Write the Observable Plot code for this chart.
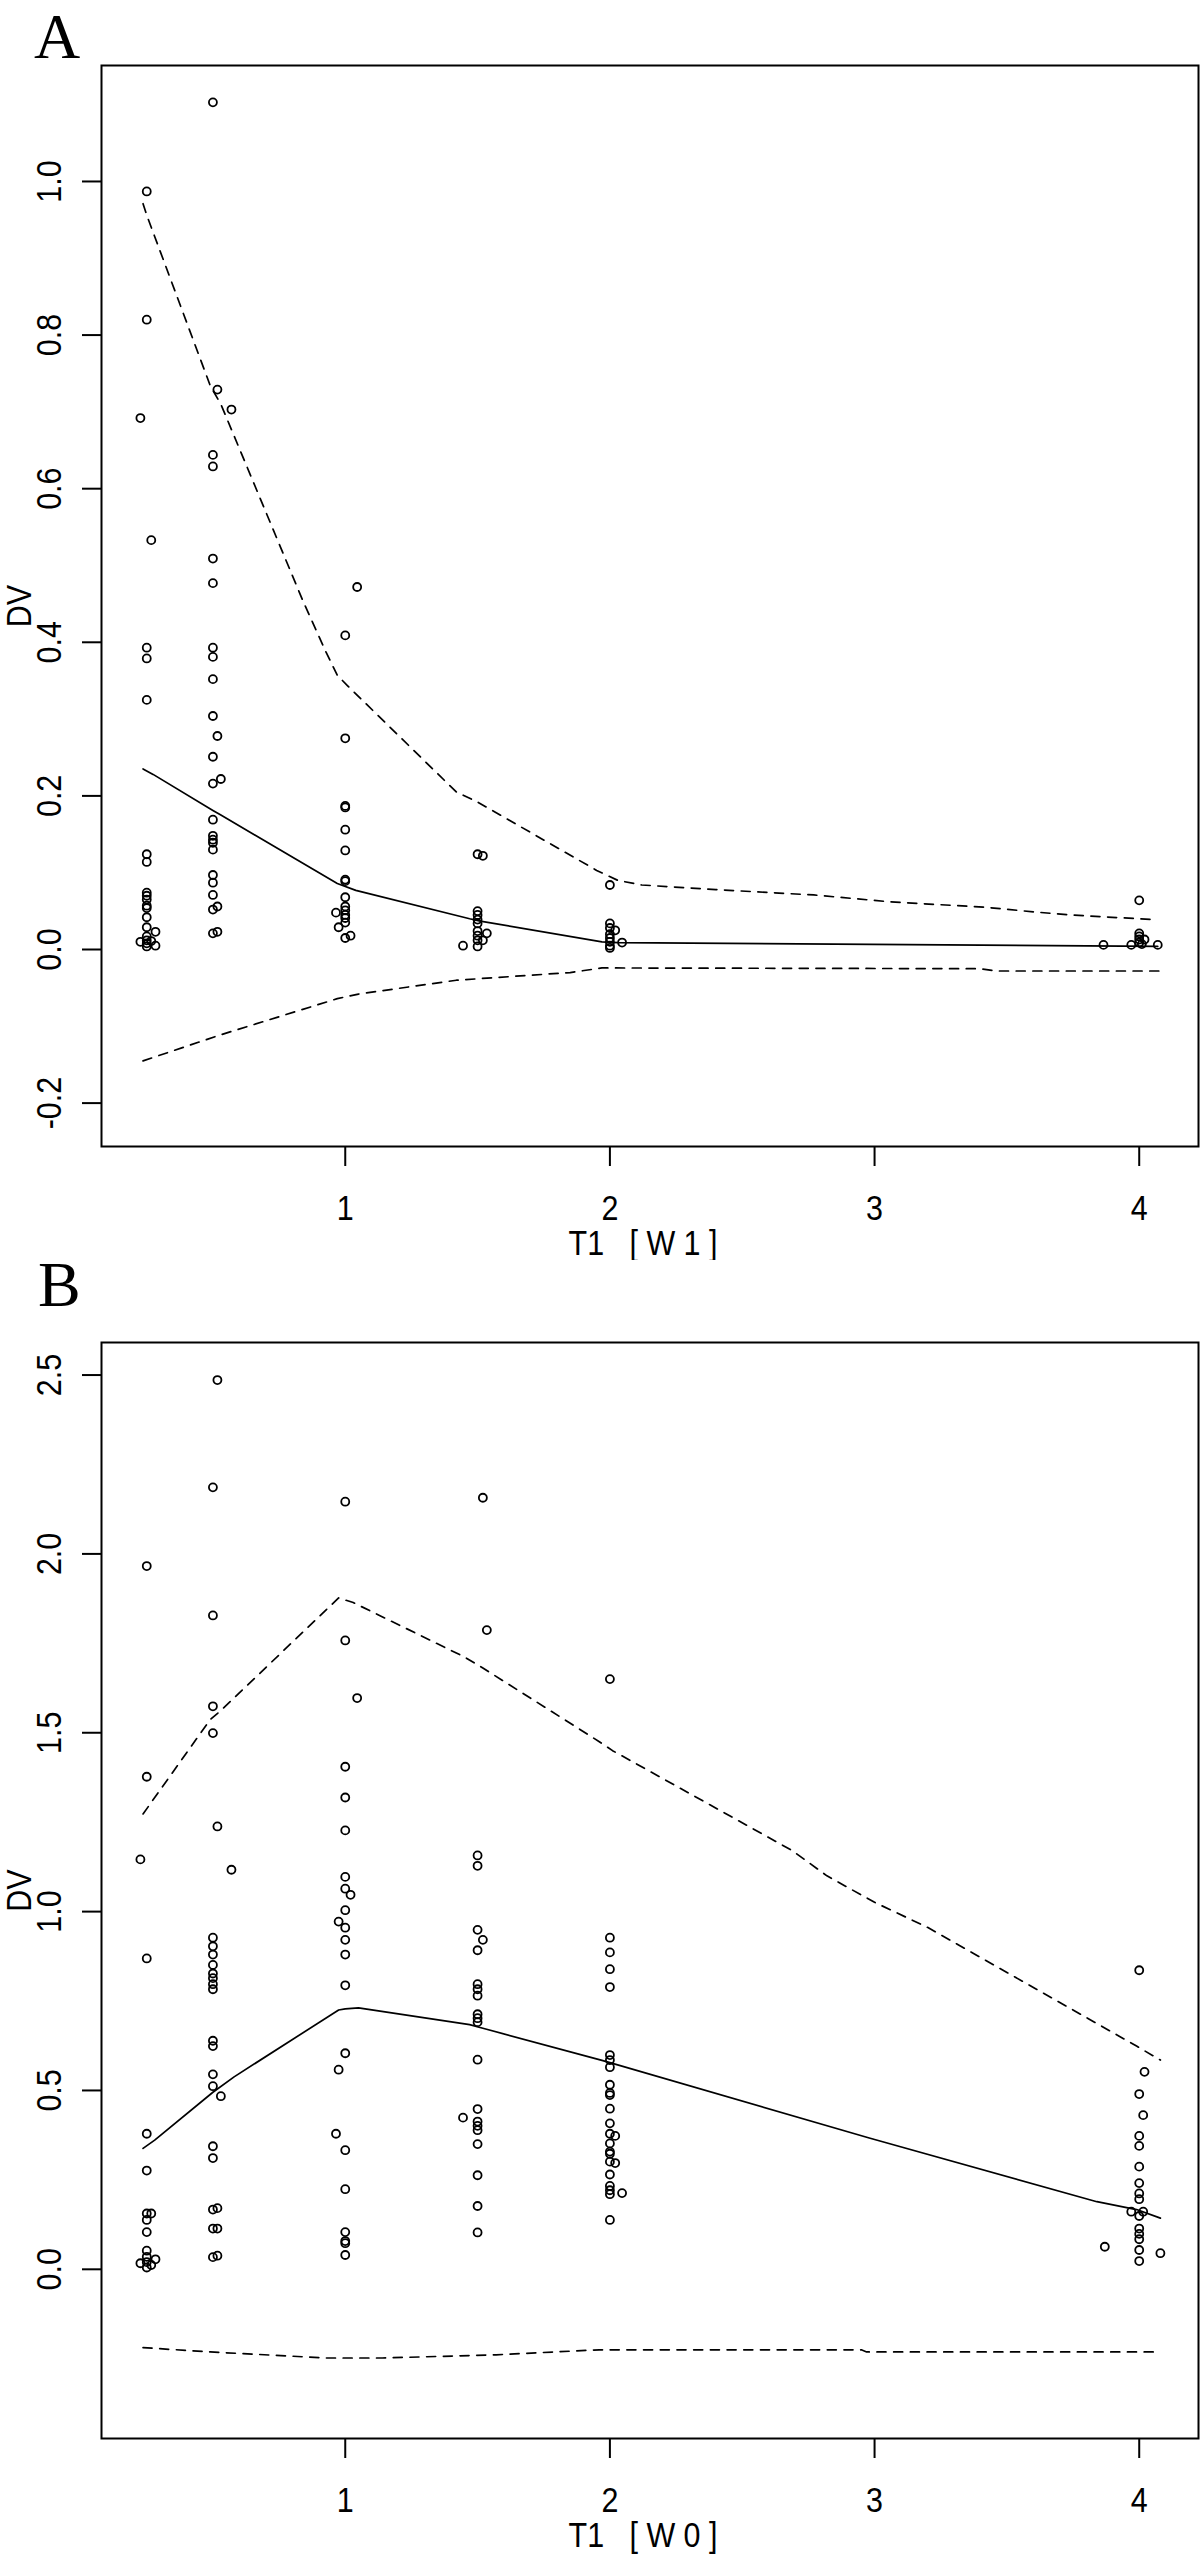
<!DOCTYPE html>
<html><head><meta charset="utf-8">
<script src="https://cdn.jsdelivr.net/npm/d3@7"></script>
<script src="https://cdn.jsdelivr.net/npm/@observablehq/plot@0.6"></script>
<style>
body{margin:0;background:#fff;}
#wrap{position:relative;width:1200px;height:2557px;overflow:hidden;background:#fff;}
.plabel{position:absolute;font-family:"Liberation Serif","Times New Roman",serif;font-size:64px;line-height:normal;color:#000;}
svg text{white-space:pre;}
</style></head><body><div id="wrap"></div>
<script>
// ---------- shared axis ----------
const xTicks = [1, 2, 3, 4];
const xDomain = [0.079, 4.224];

// ---------- Panel A : T1 [W1] ----------
const aYTicks = [-0.2, 0, 0.2, 0.4, 0.6, 0.8, 1.0];
const aYDomain = [-0.2565, 1.151];
const aPoints = [
  [0.25,0.987],[0.25,0.82],[0.226,0.692],[0.267,0.533],[0.25,0.393],[0.25,0.379],[0.25,0.325],
  [0.25,0.124],[0.25,0.114],[0.25,0.074],[0.25,0.070],[0.25,0.065],[0.25,0.057],[0.25,0.054],
  [0.25,0.042],[0.25,0.029],[0.25,0.017],[0.25,0.012],[0.25,0.008],[0.25,0.004],[0.226,0.010],
  [0.283,0.023],[0.283,0.005],[0.267,0.011],
  [0.5,1.103],[0.517,0.729],[0.57,0.703],[0.5,0.644],[0.5,0.629],[0.5,0.509],[0.5,0.477],
  [0.5,0.393],[0.5,0.381],[0.5,0.352],[0.5,0.304],[0.517,0.278],[0.5,0.251],[0.5,0.216],
  [0.53,0.222],[0.5,0.169],[0.5,0.148],[0.5,0.143],[0.5,0.139],[0.5,0.13],[0.5,0.097],
  [0.5,0.087],[0.5,0.071],[0.5,0.052],[0.517,0.056],[0.5,0.021],[0.517,0.023],
  [1.045,0.472],[1,0.409],[1,0.275],[1,0.187],[1,0.185],[1,0.156],[1,0.129],[1,0.091],
  [1,0.089],[1,0.068],[1,0.056],[1,0.051],[1,0.045],[1,0.041],[1,0.035],[0.965,0.048],
  [0.975,0.029],[1.02,0.018],[1,0.015],
  [1.5,0.124],[1.52,0.122],[1.5,0.05],[1.5,0.045],[1.5,0.039],[1.5,0.034],[1.5,0.024],
  [1.5,0.018],[1.5,0.012],[1.5,0.004],[1.535,0.021],[1.52,0.012],[1.445,0.005],
  [2,0.084],[2,0.034],[2,0.028],[2.02,0.025],[2,0.02],[2,0.015],[2,0.01],[2,0.005],
  [2,0.002],[2.046,0.009],
  [3.865,0.006],[3.97,0.006],[4,0.021],[4,0.017],[4,0.013],[4,0.009],[4.02,0.013],
  [4.07,0.006],[4,0.064],[4.01,0.007]
];
const aMedian = [
  [0.236,0.235],[0.274,0.228],[0.5,0.181],[0.53,0.175],[0.97,0.086],[1.04,0.077],
  [1.47,0.040],[1.51,0.037],[1.97,0.010],[2.03,0.009],[4.07,0.004]
];
const aUpper = [
  [0.236,0.971],[0.25,0.956],[0.49,0.734],[0.53,0.71],[0.84,0.454],[0.925,0.389],
  [0.97,0.357],[1.01,0.343],[1.42,0.205],[1.5,0.192],[1.95,0.103],[2.03,0.09],
  [2.12,0.084],[2.4,0.078],[2.77,0.071],[3.06,0.062],[3.42,0.055],[3.6,0.049],
  [3.74,0.045],[4.05,0.039]
];
const aLower = [
  [0.236,-0.145],[0.53,-0.111],[0.97,-0.064],[1.05,-0.058],[1.42,-0.040],[1.85,-0.030],
  [1.97,-0.024],[3.4,-0.025],[3.46,-0.028],[4.08,-0.028]
];

// ---------- Panel B : T1 [W0] ----------
const bYTicks = [0, 0.5, 1.0, 1.5, 2.0, 2.5];
const bYDomain = [-0.473, 2.591];
const bPoints = [
  [0.25,1.966],[0.25,1.377],[0.226,1.146],[0.25,0.869],[0.25,0.379],[0.25,0.276],[0.25,0.156],
  [0.267,0.156],[0.25,0.138],[0.25,0.104],[0.25,0.052],[0.25,0.035],[0.226,0.017],[0.283,0.028],
  [0.267,0.012],[0.25,0.005],[0.25,0.02],
  [0.517,2.486],[0.5,2.186],[0.5,1.828],[0.5,1.574],[0.5,1.499],[0.517,1.238],[0.57,1.117],
  [0.5,0.927],[0.5,0.903],[0.5,0.88],[0.5,0.851],[0.5,0.827],[0.5,0.814],[0.5,0.797],
  [0.5,0.783],[0.5,0.639],[0.5,0.624],[0.5,0.545],[0.5,0.512],[0.53,0.484],[0.5,0.344],
  [0.5,0.311],[0.5,0.167],[0.517,0.171],[0.5,0.114],[0.517,0.114],[0.5,0.034],[0.517,0.038],
  [1,2.146],[1,1.758],[1.045,1.597],[1,1.405],[1,1.319],[1,1.227],[1,1.097],[1,1.064],
  [1.02,1.047],[1,1.004],[0.975,0.972],[1,0.955],[1,0.921],[1,0.88],[1,0.794],[1,0.604],
  [0.975,0.558],[0.965,0.379],[1,0.333],[1,0.224],[1,0.104],[1,0.079],[1,0.073],[1,0.04],
  [1.52,2.157],[1.535,1.787],[1.5,1.157],[1.5,1.128],[1.5,0.949],[1.52,0.921],[1.5,0.892],
  [1.5,0.797],[1.5,0.783],[1.5,0.765],[1.5,0.713],[1.5,0.702],[1.5,0.691],[1.5,0.586],
  [1.5,0.448],[1.445,0.424],[1.5,0.413],[1.5,0.401],[1.5,0.389],[1.5,0.35],[1.5,0.263],
  [1.5,0.177],[1.5,0.103],
  [2,1.65],[2,0.927],[2,0.886],[2,0.839],[2,0.789],[2,0.599],[2,0.585],[2,0.565],[2,0.516],
  [2,0.493],[2,0.487],[2,0.449],[2,0.408],[2,0.379],[2.02,0.373],[2,0.352],[2,0.329],
  [2,0.323],[2,0.301],[2.02,0.297],[2,0.265],[2,0.233],[2,0.221],[2,0.21],[2.046,0.213],
  [2,0.138],
  [4,0.836],[4.02,0.552],[4,0.49],[4.015,0.431],[4,0.373],[4,0.345],[4,0.287],[4,0.241],
  [4,0.212],[4,0.196],[3.97,0.161],[4.015,0.161],[4,0.149],[4,0.114],[4,0.099],[4,0.084],
  [4,0.054],[4,0.023],[3.87,0.063],[4.08,0.045]
];
const bMedian = [
  [0.236,0.338],[0.28,0.361],[0.5,0.495],[0.58,0.538],[0.975,0.725],[1.0,0.728],[1.05,0.731],
  [1.47,0.684],[1.52,0.674],[1.97,0.584],[2.0,0.578],[2.98,0.367],[3.84,0.189],[3.99,0.167],
  [4.08,0.143]
];
const bUpper = [
  [0.236,1.273],[0.49,1.537],[0.53,1.562],[0.975,1.877],[1.03,1.864],[1.45,1.712],[1.52,1.681],
  [1.96,1.475],[2.01,1.45],[2.69,1.17],[2.82,1.10],[3.0,1.026],[3.2,0.956],[3.99,0.624],
  [4.08,0.585]
];
const bLower = [
  [0.236,-0.219],[0.49,-0.231],[0.93,-0.248],[1.14,-0.248],[1.57,-0.239],[1.96,-0.225],
  [2.95,-0.225],[2.97,-0.231],[4.08,-0.231]
];

function panel(o) {
  const toObj = a => a.map(([t, dv]) => ({t, dv}));
  return Plot.plot({
    width: 1200, height: o.height,
    marginLeft: 101, marginRight: 2, marginTop: o.marginTop, marginBottom: o.marginBottom,
    x: {domain: xDomain},
    y: {domain: o.yDomain},
    style: {fontFamily: "'Liberation Sans', Arial, sans-serif", fontSize: "35px", background: "white", color: "black", overflow: "visible"},
    marks: [
      Plot.axisX({ticks: xTicks, tickSize: 20, tickPadding: 29, tickFormat: d => String(d), label: null, strokeWidth: 2}),
      Plot.axisY({ticks: o.yTicks, tickSize: 19, tickPadding: 33, tickRotate: -90, textAnchor: "middle", lineAnchor: "middle", tickFormat: d => d.toFixed(1), label: null, strokeWidth: 2}),
      Plot.line(toObj(o.lower), {x: "t", y: "dv", stroke: "black", strokeWidth: 1.7, strokeDasharray: "9,7.7"}),
      Plot.line(toObj(o.upper), {x: "t", y: "dv", stroke: "black", strokeWidth: 1.7, strokeDasharray: "9,7.7"}),
      Plot.line(toObj(o.median), {x: "t", y: "dv", stroke: "black", strokeWidth: 1.7}),
      Plot.dot(toObj(o.points), {x: "t", y: "dv", r: 4, stroke: "black", strokeWidth: 1.8, fill: "none"}),
      Plot.frame({stroke: "black", strokeWidth: 2}),
      Plot.text([o.xLabel], {frameAnchor: "bottom", dy: 97.5, dx: -7, lineAnchor: "middle", textAnchor: "middle"}),
      Plot.text(["DV"], {frameAnchor: "left", dx: -82, rotate: -90, lineAnchor: "middle", textAnchor: "middle"})
    ]
  });
}

const wrap = document.getElementById("wrap");
function place(el, top) { el.style.position = "absolute"; el.style.left = "0px"; el.style.top = top + "px"; wrap.appendChild(el); }

const svgA = panel({height: 1260, marginTop: 65, marginBottom: 114, yDomain: aYDomain, yTicks: aYTicks,
  points: aPoints, median: aMedian, upper: aUpper, lower: aLower, xLabel: "T1   [ W 1 ]"});
place(svgA, 0);
const svgB = panel({height: 1297, marginTop: 82, marginBottom: 119, yDomain: bYDomain, yTicks: bYTicks,
  points: bPoints, median: bMedian, upper: bUpper, lower: bLower, xLabel: "T1   [ W 0 ]"});
place(svgB, 1260);

// condensed sans lettering (narrow grotesque as in the original)
[svgA, svgB].forEach(svg => svg.querySelectorAll("text").forEach(t => {
  const L = t.getComputedTextLength();
  if (L > 0) { t.setAttribute("textLength", (L * 0.87).toFixed(2)); t.setAttribute("lengthAdjust", "spacingAndGlyphs"); }
}));

const labA = document.createElement("div"); labA.className = "plabel"; labA.textContent = "A";
labA.style.left = "34px"; labA.style.top = "0px"; wrap.appendChild(labA);
const labB = document.createElement("div"); labB.className = "plabel"; labB.textContent = "B";
labB.style.left = "38px"; labB.style.top = "1248px"; wrap.appendChild(labB);
</script></body></html>
